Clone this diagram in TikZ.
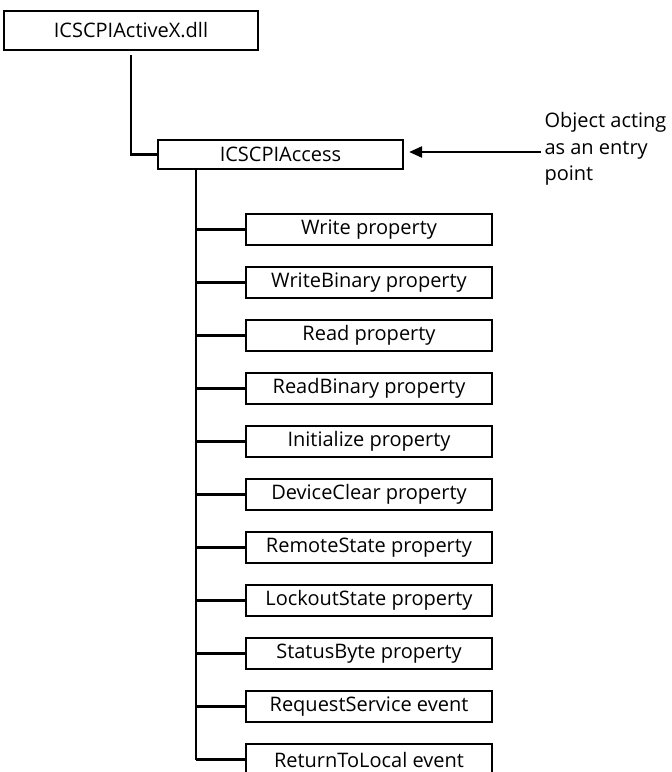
\documentclass[tikz,border=0pt]{standalone}
\usepackage{fontspec}
\setmainfont{Open Sans}
\usepackage{tikz}
\usetikzlibrary{arrows.meta,positioning}

\begin{document}
\begin{tikzpicture}[
      x=1pt, y=-1pt,
      >={Triangle[length=13pt,width=11pt]},
      box/.style={draw=black, line width=2.2pt, fill=white, inner sep=0pt,
        align=center, font=\fontsize{20}{24}\selectfont},
      topbox/.style={box, minimum width=254pt, minimum height=39pt},
      accbox/.style={box, minimum width=245pt, minimum height=29pt},
      itembox/.style={box, minimum width=246pt, minimum height=31pt},
      link/.style={line width=2.2pt, draw=black},
      flow/.style={->, line width=2.2pt, draw=black},
      note/.style={font=\fontsize{20}{26.5}\selectfont, align=left, anchor=west}]
    \useasboundingbox (0,0) rectangle (672,772);

    \node[topbox] (dll) at (131,30.5) {ICSCPIActiveX.dll};
    \node[accbox] (access) at (280.5,154.5) {ICSCPIAccess};
    \node[note] (entry) at (541,149) {Object acting\\as an entry\\point};
    \draw[link, shorten <=4pt] (dll.south) |- (access.west);
    \draw[flow, shorten >=5pt] ([yshift=-3pt]entry.west) -- ([yshift=-3pt]entry.west -| access.east);

    % members of the access object
    \coordinate (spine) at (196,169);
    \foreach \name/\label [count=\i from 0] in {
        write/Write property,
        writebin/WriteBinary property,
        read/Read property,
        readbin/ReadBinary property,
        init/Initialize property,
        clear/DeviceClear property,
        remote/RemoteState property,
        lockout/LockoutState property,
        status/StatusByte property,
        reqsrv/RequestService event,
        retlocal/ReturnToLocal event} {
      \node[itembox] (\name) at (369,229.5+53*\i) {\label};
      \draw[link] (spine |- \name.west) -- (\name.west);
    }
    \draw[link] (spine) -- (spine |- retlocal.west);
  \end{tikzpicture}
\end{document}
